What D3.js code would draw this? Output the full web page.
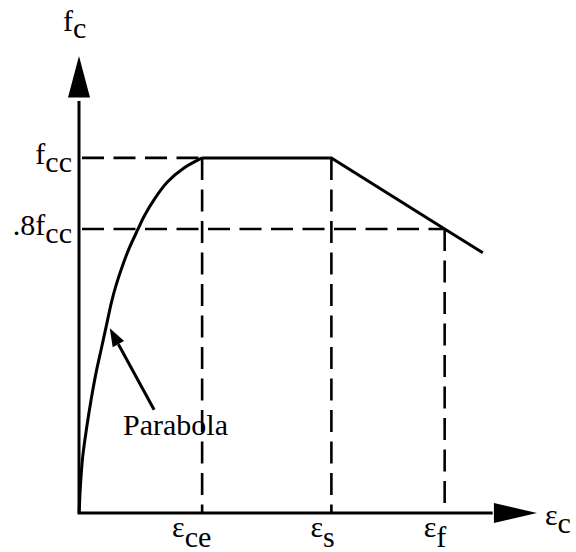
<!DOCTYPE html>
<html>
<head>
<meta charset="utf-8">
<script src="https://cdn.jsdelivr.net/npm/d3@7"></script>
<style>
  html, body { margin: 0; padding: 0; background: #fff; }
  svg { display: block; }
</style>
</head>
<body>
<svg id="chart" width="576" height="552"></svg>
<script>
// Strain expressed relative to the strain at peak stress; stress relative to f'cc.
const strainMarks = [1.0, 2.05, 2.97];
const strainSubs = ["ce", "s", "f"];
const stressMarks = [1.0, 0.8];
const stressPrefix = ["", ".8"];

// Ascending (parabolic) branch up to the peak
const parabolaStrain = [0, 0.002, 0.011, 0.030, 0.063, 0.098, 0.138, 0.179, 0.220, 0.264, 0.299, 0.347, 0.402, 0.480, 0.528, 0.618, 0.720, 0.850, 1.0];
const parabolaStress = [0, 0.008, 0.073, 0.158, 0.242, 0.318, 0.394, 0.459, 0.524, 0.594, 0.639, 0.690, 0.741, 0.800, 0.835, 0.887, 0.933, 0.971, 1.0];

// Plateau and linear descending branch
const branchStrain = [1.0, 2.05, 2.97, 3.28];
const branchStress = [1.0, 1.0, 0.8, 0.733];

const FONT = "'Liberation Serif', 'Times New Roman', Times, serif";

const svg = d3.select("#chart");
const x = d3.scaleLinear().domain([0, 3.72]).range([79, 537]);
const y = d3.scaleLinear().domain([0, 1.287]).range([513, 56]);

const ink = "#000";

// Dashed guide lines
const dash = "22,9.5";
const guides = svg.append("g").attr("stroke", ink).attr("stroke-width", 2.6)
  .attr("stroke-dasharray", dash).attr("fill", "none");

// horizontal: f'cc up to the peak strain, 0.8f'cc up to the failure strain
guides.append("line")
  .attr("x1", x(0)).attr("x2", x(strainMarks[0]))
  .attr("y1", y(stressMarks[0])).attr("y2", y(stressMarks[0]))
  .attr("stroke-dashoffset", 28.5);
guides.append("line")
  .attr("x1", x(0)).attr("x2", x(strainMarks[2]))
  .attr("y1", y(stressMarks[1])).attr("y2", y(stressMarks[1]))
  .attr("stroke-dashoffset", 28.5);

// vertical drops to the strain axis
const dropTop = [stressMarks[0], stressMarks[0], stressMarks[1]];
strainMarks.forEach((s, i) => {
  guides.append("line")
    .attr("x1", x(s)).attr("x2", x(s))
    .attr("y1", y(dropTop[i])).attr("y2", y(0));
});

// Stress-strain curve
const asc = d3.line().x(d => x(d[0])).y(d => y(d[1])).curve(d3.curveCatmullRom.alpha(0.5));
svg.append("path")
  .attr("d", asc(parabolaStrain.map((s, i) => [s, parabolaStress[i]])))
  .attr("fill", "none").attr("stroke", ink).attr("stroke-width", 3);

const lin = d3.line().x(d => x(d[0])).y(d => y(d[1]));
svg.append("path")
  .attr("d", lin(branchStrain.map((s, i) => [s, branchStress[i]])))
  .attr("fill", "none").attr("stroke", ink).attr("stroke-width", 3)
  .attr("stroke-linejoin", "miter");

// Axes with arrowheads
const axes = svg.append("g");
axes.append("path")
  .attr("d", `M${x(0)},${y(1.16)} L${x(0)},${y(0)} L${x(3.36)},${y(0)}`)
  .attr("fill", "none").attr("stroke", ink).attr("stroke-width", 3)
  .attr("stroke-linejoin", "miter");
// vertical arrowhead
axes.append("path")
  .attr("d", `M${x(0)},${y(1.287)} L${x(0) - 11},${y(1.17)} L${x(0) + 11},${y(1.17)} Z`)
  .attr("fill", ink);
// horizontal arrowhead
axes.append("path")
  .attr("d", `M${x(3.72)},${y(0)} L${x(3.37)},${y(0) - 10} L${x(3.37)},${y(0) + 10} Z`)
  .attr("fill", ink);

// Labels
const fs = 30;
function subLabel(g, px, py, main, sub, anchor, drop) {
  const t = g.append("text").attr("x", px).attr("y", py)
    .attr("font-family", FONT).attr("font-size", fs)
    .attr("text-anchor", anchor).attr("fill", ink);
  t.append("tspan").text(main);
  t.append("tspan").attr("dy", drop).text(sub);
  return t;
}
const labels = svg.append("g");

// axis titles
subLabel(labels, 63, 31, "f", "c", "start", 7);
subLabel(labels, 545, 525, "ε", "c", "start", 8);

// stress levels on the vertical axis
stressMarks.forEach((v, i) => {
  subLabel(labels, 72, y(v) + 6, stressPrefix[i] + "f", "cc", "end", 8);
});

// strain marks on the horizontal axis
const strainShift = [-30, -21, -21];
strainMarks.forEach((s, i) => {
  subLabel(labels, x(s) + strainShift[i], 537, "ε", strainSubs[i], "start", 10);
});

// Parabola annotation with arrow
const tipX = x(0.25), tipY = y(0.52);
const tailX = x(0.61), tailY = y(0.291);
const ang = Math.atan2(tipY - tailY, tipX - tailX);
const hl = 18, hw = 6.5;
const bx = tipX - hl * Math.cos(ang), by = tipY - hl * Math.sin(ang);
svg.append("line")
  .attr("x1", tailX).attr("y1", tailY).attr("x2", bx).attr("y2", by)
  .attr("stroke", ink).attr("stroke-width", 3);
svg.append("path")
  .attr("d", `M${tipX},${tipY} L${bx + hw * Math.sin(ang)},${by - hw * Math.cos(ang)} L${bx - hw * Math.sin(ang)},${by + hw * Math.cos(ang)} Z`)
  .attr("fill", ink);
labels.append("text").attr("x", 123).attr("y", 435)
  .attr("font-family", FONT).attr("font-size", 30).attr("fill", ink).text("Parabola");
</script>
</body>
</html>
